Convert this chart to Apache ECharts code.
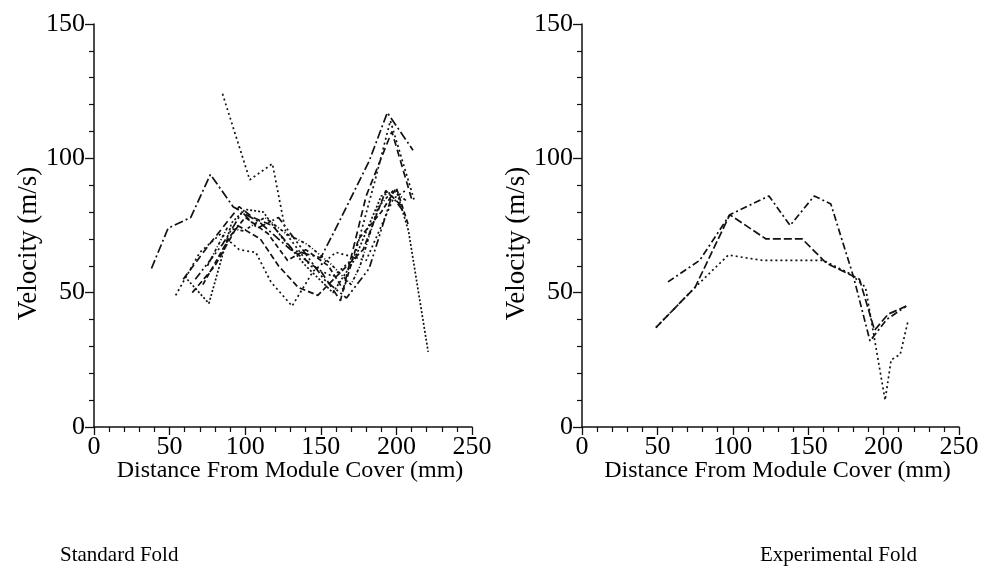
<!DOCTYPE html>
<html>
<head>
<meta charset="utf-8">
<script src="https://cdn.jsdelivr.net/npm/echarts@6/dist/echarts.min.js"></script>
<style>
  html, body { margin: 0; padding: 0; background: #fff; }
  #chart { width: 985px; height: 573px; }
</style>
</head>
<body>
<div id="chart"></div>
<script>
// Axis ticks
const xTicks = [0, 50, 100, 150, 200, 250];
const yTicks = [0, 50, 100, 150];

// Standard fold runs: [distance (mm), velocity (m/s)]
const std1 = [[85,124],[103,92],[118,98],[127,72],[143,60],[158,56],[172,63],[186,92],[196,114],[212,84]];
const std2 = [[38,59],[49,74],[64,78],[77,94],[92,82],[110,76],[130,66],[150,63],[160,74],[182,99],[194,117],[211,103]];
const std3 = [[60,56],[76,46],[91,76],[100,81],[112,80],[125,70],[140,60],[158,50],[172,62],[190,86],[200,88],[208,73],[221,28]];
const std4 = [[54,49],[70,65],[84,72],[96,66],[107,65],[117,54],[131,45],[145,58],[160,65],[180,62],[198,85],[206,88]];
const std5 = [[59,55],[75,67],[96,82],[105,78],[118,75],[133,65],[150,58],[163,47],[180,86],[197,110],[210,85]];
const std6 = [[72,53],[90,71],[100,78],[115,72],[128,62],[140,66],[155,60],[165,51],[175,70],[190,80],[200,89],[208,75]];
const std7 = [[67,55],[85,68],[98,80],[108,74],[122,78],[138,66],[152,55],[167,48],[182,59],[197,86],[205,80]];
const std8 = [[75,60],[88,74],[99,73],[113,78],[127,72],[141,68],[156,61],[170,53],[176,60],[188,82],[198,88],[207,84]];
const std9 = [[65,50],[80,60],[95,75],[110,70],[122,60],[135,52],[148,49],[162,57],[178,66],[193,88],[204,82]];

// Experimental fold runs
const exp1 = [[57,54],[78,62],[98,79],[124,86],[138,75],[154,86],[165,83],[180,56],[191,32],[202,40],[215,45]];
const exp2 = [[49,37],[75,52],[98,79],[122,70],[146,70],[162,61],[184,55],[194,36],[203,42],[215,45]];
const exp3 = [[49,37],[75,52],[97,64],[120,62],[160,62],[178,57],[188,52],[201,10],[205,25],[211,27],[216,39]];

const stdRuns = [std1, std2, std3, std4, std5, std6, std7, std8, std9];
const expRuns = [exp1, exp2, exp3];

// Dash patterns cycled over the runs
const dashes = [
  [2, 3],
  [9, 3, 2, 3],
  [2, 2],
  [2, 3],
  [7, 4],
  [5, 3],
  [8, 3, 2, 3, 2, 3],
  [3, 2, 1, 2],
  [6, 3]
];
const expDashes = [[7, 3, 2, 3], [8, 3], [2, 3]];

const FONT = '"Liberation Serif", "DejaVu Serif", serif';
const INK = '#111';

function xAxisFor(gridIndex) {
  return {
    type: 'value', gridIndex, min: 0, max: 250, interval: 50,
    name: 'Distance From Module Cover (mm)', nameLocation: 'middle', nameGap: 32,
    nameMoveOverlap: false,
    nameTextStyle: { fontFamily: FONT, fontSize: 24, color: '#000', padding: [0, 0, 0, 14] },
    axisLine: { onZero: false, lineStyle: { color: INK, width: 1.5 } },
    axisTick: { show: true, inside: false, length: 8, lineStyle: { color: INK, width: 1.3 } },
    minorTick: { show: true, splitNumber: 5, length: 5, lineStyle: { color: INK, width: 1.2 } },
    axisLabel: { fontFamily: FONT, fontSize: 26, color: '#000', margin: 7,
      formatter: v => xTicks.includes(v) ? String(v) : '' },
    splitLine: { show: false }
  };
}

function yAxisFor(gridIndex, gap) {
  return {
    type: 'value', gridIndex, min: 0, max: 150, interval: 50,
    name: 'Velocity (m/s)', nameLocation: 'middle', nameGap: gap,
    nameTextStyle: { fontFamily: FONT, fontSize: 27, color: '#000', padding: [0, 36, 0, 0] },
    axisLine: { lineStyle: { color: INK, width: 1.5 } },
    axisTick: { show: true, inside: false, length: 9, lineStyle: { color: INK, width: 1.3 } },
    minorTick: { show: true, splitNumber: 5, length: 5, lineStyle: { color: INK, width: 1.2 } },
    axisLabel: { fontFamily: FONT, fontSize: 26, color: '#000', margin: 9,
      formatter: v => yTicks.includes(v) ? String(v) : '' },
    splitLine: { show: false }
  };
}

function runSeries(runs, patterns, idx) {
  return runs.map((run, i) => ({
    type: 'line', xAxisIndex: idx, yAxisIndex: idx,
    data: run, symbol: 'none', smooth: false, silent: true,
    lineStyle: { color: INK, width: 1.7, type: patterns[i % patterns.length] }
  }));
}

const chart = echarts.init(document.getElementById('chart'), null, { renderer: 'canvas' });
chart.setOption({
  backgroundColor: '#fff',
  animation: false,
  grid: [
    { left: 94, top: 24, width: 378, height: 403 },
    { left: 582, top: 24, width: 377, height: 403 }
  ],
  graphic: [
    { type: 'text', left: 60, top: 545,
      style: { text: 'Standard Fold', fontFamily: FONT, fontSize: 21, fill: '#000' } },
    { type: 'text', left: 760, top: 545,
      style: { text: 'Experimental Fold', fontFamily: FONT, fontSize: 21, fill: '#000' } }
  ],
  xAxis: [xAxisFor(0), xAxisFor(1)],
  yAxis: [yAxisFor(0, 50), yAxisFor(1, 46)],
  series: [].concat(runSeries(stdRuns, dashes, 0), runSeries(expRuns, expDashes, 1))
});
</script>
</body>
</html>
